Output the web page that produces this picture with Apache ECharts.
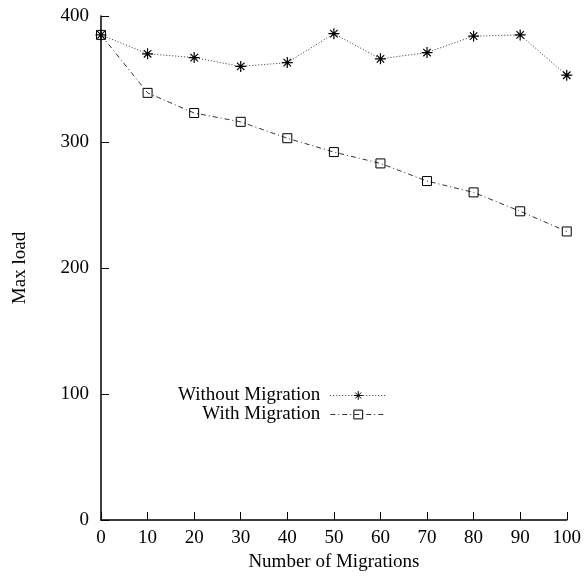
<!DOCTYPE html>
<html>
<head>
<meta charset="utf-8">
<script src="https://cdn.jsdelivr.net/npm/echarts@6/dist/echarts.min.js"></script>
<style>
  html, body { margin: 0; padding: 0; background: #fff; }
  #chart { width: 584px; height: 582px; }
</style>
</head>
<body>
<div id="chart"></div>
<script>
// Number of migrations on the x axis
const migrations = [0, 10, 20, 30, 40, 50, 60, 70, 80, 90, 100];
// Maximum load for each strategy
const withoutMigration = [385, 370, 367, 360, 363, 386, 366, 371, 384, 385, 353];
const withMigration = [385, 339, 323, 316, 303, 292, 283, 269, 260, 245, 229];
const yTicks = [0, 100, 200, 300, 400];
const seriesNames = ['Without Migration', 'With Migration'];

const FONT = '"Liberation Serif", "DejaVu Serif", serif';
const INK = '#000';
const FS = 19;

// Asterisk marker drawn as stroked lines
const asterisk = 'path://M0,5L10,5M5,0L5,10M1.6,1.6L8.4,8.4M8.4,1.6L1.6,8.4';

const chart = echarts.init(document.getElementById('chart'), null, { renderer: 'canvas' });

chart.setOption({
  animation: false,
  backgroundColor: '#fff',
  textStyle: { fontFamily: FONT, color: INK },
  grid: { left: 101, right: 17, top: 16, bottom: 62, containLabel: false },
  legend: {
    orient: 'vertical',
    left: 173,
    top: 381,
    align: 'right',
    itemWidth: 56,
    itemHeight: 11,
    itemGap: 0,
    data: seriesNames,
    itemStyle: { borderWidth: 1 },
    lineStyle: { width: 1 },
    textStyle: { fontFamily: FONT, fontSize: FS, color: INK, padding: [0, 5, 0, 0] }
  },
  xAxis: {
    type: 'value',
    min: 0,
    max: 100,
    interval: 10,
    name: 'Number of Migrations',
    nameLocation: 'middle',
    nameGap: 32,
    nameTextStyle: { fontFamily: FONT, fontSize: FS, color: INK },
    axisLine: { lineStyle: { color: INK, width: 1.5 } },
    axisTick: { inside: true, length: 8, lineStyle: { color: INK } },
    axisLabel: { fontFamily: FONT, fontSize: FS, color: INK, margin: 9 },
    splitLine: { show: false }
  },
  yAxis: {
    type: 'value',
    min: yTicks[0],
    max: yTicks[yTicks.length - 1],
    interval: 100,
    name: 'Max load',
    nameLocation: 'middle',
    nameRotate: 90,
    nameGap: 71,
    nameTextStyle: { fontFamily: FONT, fontSize: FS, color: INK },
    axisLine: { show: true, lineStyle: { color: INK, width: 1.5 } },
    axisTick: { show: true, inside: true, length: 8, lineStyle: { color: INK } },
    axisLabel: { fontFamily: FONT, fontSize: FS, color: INK, margin: 12 },
    splitLine: { show: false }
  },
  series: [
    {
      name: seriesNames[0],
      type: 'line',
      data: migrations.map((m, i) => [m, withoutMigration[i]]),
      symbol: asterisk,
      symbolSize: 11,
      showAllSymbol: true,
      lineStyle: { color: '#333', width: 1, type: [1, 2] },
      itemStyle: { color: 'rgba(0,0,0,0)', borderColor: INK, borderWidth: 1.2 },
      z: 3
    },
    {
      name: seriesNames[1],
      type: 'line',
      data: migrations.map((m, i) => [m, withMigration[i]]),
      symbol: 'rect',
      symbolSize: 9,
      showAllSymbol: true,
      lineStyle: { color: '#333', width: 1, type: [5, 3, 1, 3] },
      itemStyle: { color: 'rgba(0,0,0,0)', borderColor: INK, borderWidth: 1 },
      z: 2
    }
  ]
});
</script>
</body>
</html>
